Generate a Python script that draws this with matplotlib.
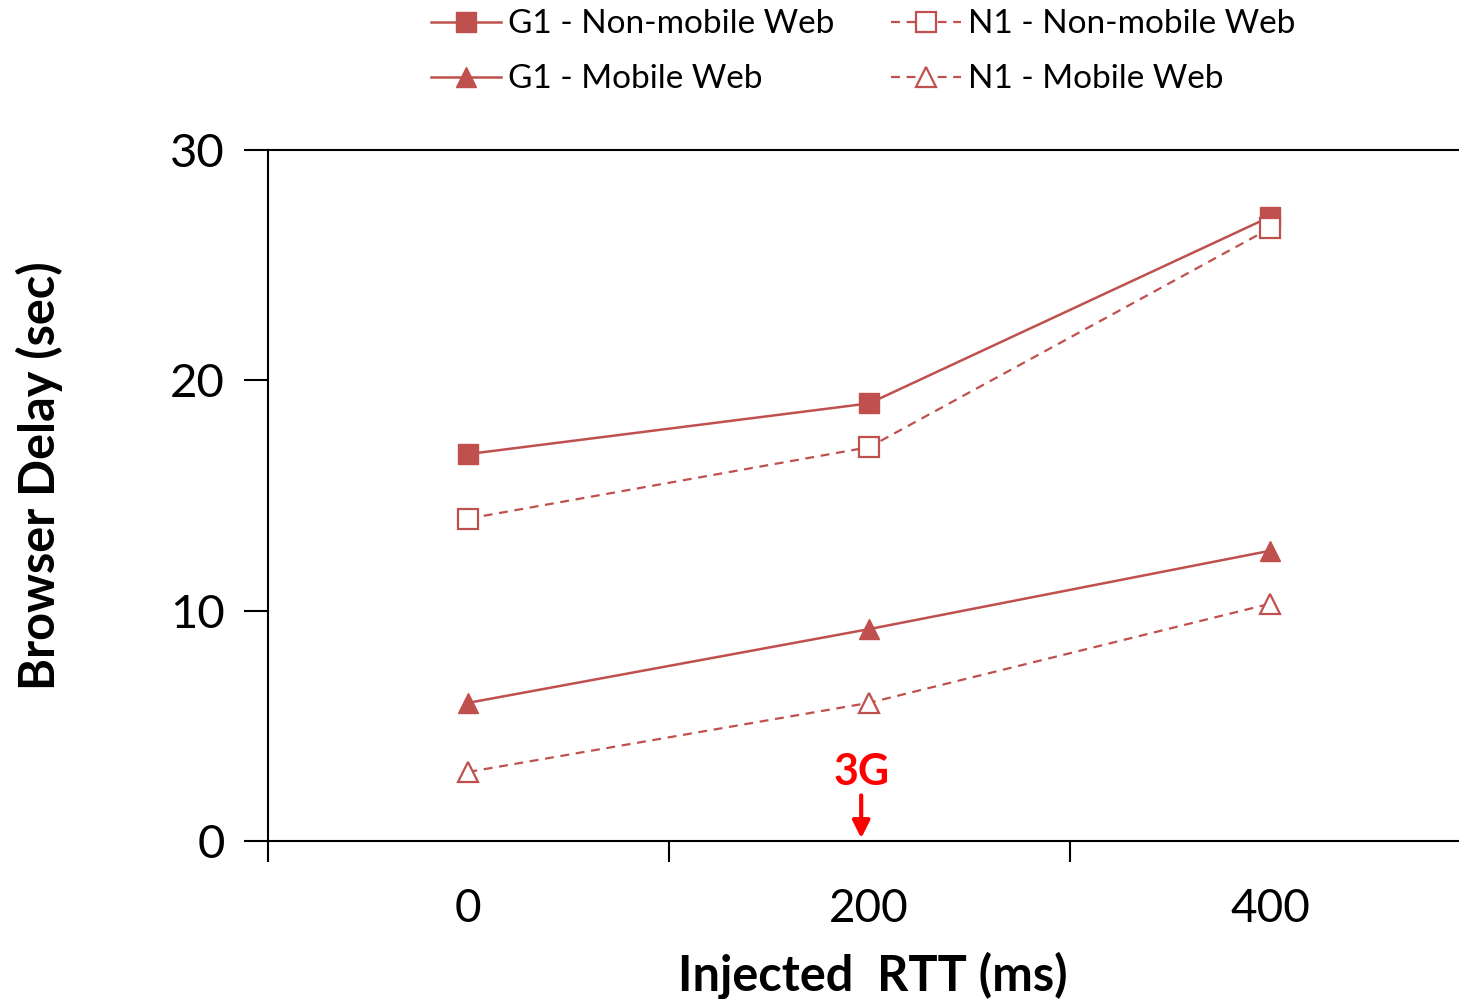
import matplotlib.pyplot as plt
import numpy as np

plt.rcParams['font.family'] = ['Lato', 'DejaVu Sans']

rtt = [0, 200, 400]
g1_nonmobile = [16.8, 19.0, 27.1]
n1_nonmobile = [14.0, 17.1, 26.6]
g1_mobile = [6.0, 9.2, 12.6]
n1_mobile = [3.0, 6.0, 10.3]

red = '#C0504D'

fig = plt.figure(figsize=(14.59, 9.99), dpi=100)
ax = fig.add_axes([268 / 1459, 1 - 841 / 999, 1 - 268 / 1459, (841 - 150) / 999])

l1, = ax.plot(rtt, g1_nonmobile, '-', color=red, lw=1.8, marker='s', ms=14,
              label='G1 - Non-mobile Web')
l2, = ax.plot(rtt, n1_nonmobile, '--', color=red, lw=1.6, marker='s', ms=14,
              mfc='white', mew=1.6, dashes=(4, 3), label='N1 - Non-mobile Web')
l3, = ax.plot(rtt, g1_mobile, '-', color=red, lw=1.8, marker='^', ms=15,
              label='G1 - Mobile Web')
l4, = ax.plot(rtt, n1_mobile, '--', color=red, lw=1.6, marker='^', ms=15,
              mfc='white', mew=1.6, dashes=(4, 3), label='N1 - Mobile Web')

ax.set_xlim(-100, 494.3)
ax.set_ylim(0, 30)
ax.set_yticks([0, 10, 20, 30])
ax.tick_params(axis='y', labelsize=34, length=17, width=1.5, pad=14)
# category boundaries get the tick marks, category centres get the labels
ax.set_xticks([-100, 100, 300])
ax.set_xticklabels([])
ax.set_xticks(rtt, minor=True)
ax.set_xticklabels(['0', '200', '400'], minor=True)
ax.tick_params(axis='x', which='major', length=15, width=1.5)
ax.tick_params(axis='x', which='minor', length=0, labelsize=33, pad=34)

ax.spines['right'].set_visible(False)
for s in ['left', 'bottom', 'top']:
    ax.spines[s].set_linewidth(1.5)

ax.set_ylabel('Browser Delay (sec)', fontsize=35, fontweight='bold')
ax.yaxis.set_label_coords(-0.172, 0.528)
ax.set_xlabel('Injected  RTT (ms)', fontsize=35, fontweight='bold')
ax.xaxis.set_label_coords(0.508, -0.159)

ax.annotate('', xy=(196, 0), xytext=(196, 2.1),
            arrowprops=dict(arrowstyle='-|>', color='red', lw=3, mutation_scale=26))
ax.text(196, 3.0, '3G', color='red', fontsize=31, fontweight='bold',
        ha='center', va='center')

ax.legend([l1, l3, l2, l4],
          ['G1 - Non-mobile Web', 'G1 - Mobile Web', 'N1 - Non-mobile Web', 'N1 - Mobile Web'],
          loc='upper left', bbox_to_anchor=(428 / 1459, 1 - 6 / 999), bbox_transform=fig.transFigure,
          ncol=2, frameon=False, fontsize=24, handlelength=2.1, columnspacing=1.7,
          labelspacing=0.75, handletextpad=0.2, borderaxespad=0, borderpad=0.1)

fig.savefig('out.png', dpi=100)
